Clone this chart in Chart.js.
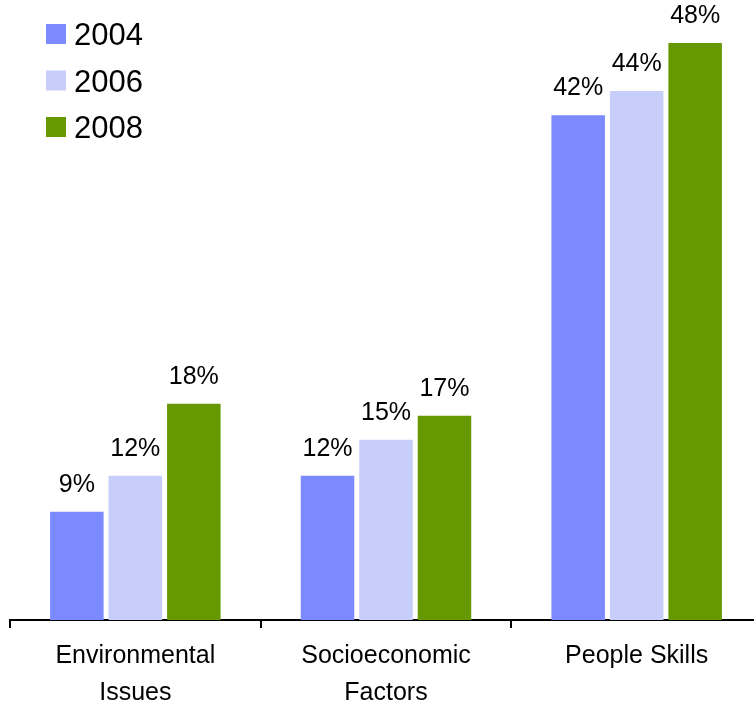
<!DOCTYPE html>
<html>
<head>
<meta charset="utf-8">
<script src="https://cdn.jsdelivr.net/npm/chart.js@4"></script>
<style>
  html, body { margin: 0; padding: 0; background: #fff; overflow: hidden; }
  canvas { display: block; }
</style>
</head>
<body>
<canvas id="c" width="762" height="701"></canvas>
<script>
// categories (multi-line tick labels)
var categories = [['Environmental', 'Issues'], ['Socioeconomic', 'Factors'], ['People Skills']];
var years = ['2004', '2006', '2008'];
var values2004 = [9, 12, 42];
var values2006 = [12, 15, 44];
var values2008 = [18, 17, 48];
var colors = ['#7b8bff', '#c8cefa', '#669900'];

var FONT = "'Liberation Sans', Arial, sans-serif";

// labels above the bars
var barLabels = {
  id: 'barLabels',
  afterDatasetsDraw: function(chart) {
    var ctx = chart.ctx;
    ctx.save();
    ctx.font = '25px ' + FONT;
    ctx.fillStyle = '#000';
    ctx.textAlign = 'center';
    ctx.textBaseline = 'alphabetic';
    chart.data.datasets.forEach(function(ds, i) {
      chart.getDatasetMeta(i).data.forEach(function(bar, j) {
        ctx.fillText(ds.data[j] + '%', bar.x, bar.y - 20);
      });
    });
    ctx.restore();
  }
};

// legend in the top-left corner
var cornerLegend = {
  id: 'cornerLegend',
  afterDraw: function(chart) {
    var ctx = chart.ctx;
    ctx.save();
    ctx.font = '31px ' + FONT;
    ctx.textBaseline = 'alphabetic';
    ctx.textAlign = 'left';
    chart.data.datasets.forEach(function(ds, i) {
      var top = 24 + i * 46.5;
      ctx.fillStyle = ds.backgroundColor;
      ctx.fillRect(46, top, 20, 20);
      ctx.fillStyle = '#000';
      ctx.fillText(ds.label, 74, top + 21);
    });
    ctx.restore();
  }
};

new Chart(document.getElementById('c'), {
  type: 'bar',
  data: {
    labels: categories,
    datasets: [
      { label: years[0], data: values2004, backgroundColor: colors[0] },
      { label: years[1], data: values2006, backgroundColor: colors[1] },
      { label: years[2], data: values2008, backgroundColor: colors[2] }
    ]
  },
  options: {
    responsive: false,
    animation: false,
    layout: { padding: { left: 10, right: 0, top: 19, bottom: 0 } },
    datasets: {
      bar: { categoryPercentage: 0.70, barPercentage: 0.915 }
    },
    plugins: {
      legend: { display: false },
      tooltip: { enabled: false }
    },
    scales: {
      x: {
        afterFit: function(s) { s.height = 81; },
        border: { display: true, color: '#000', width: 2 },
        grid: {
          offset: true,
          drawOnChartArea: false,
          color: '#000',
          lineWidth: 2,
          tickLength: 8
        },
        ticks: {
          color: '#000',
          padding: 10,
          maxRotation: 0,
          autoSkip: false,
          font: { family: FONT, size: 25, lineHeight: 1.46 }
        }
      },
      y: {
        display: false,
        min: 0,
        max: 50
      }
    }
  },
  plugins: [barLabels, cornerLegend]
});
</script>
</body>
</html>
